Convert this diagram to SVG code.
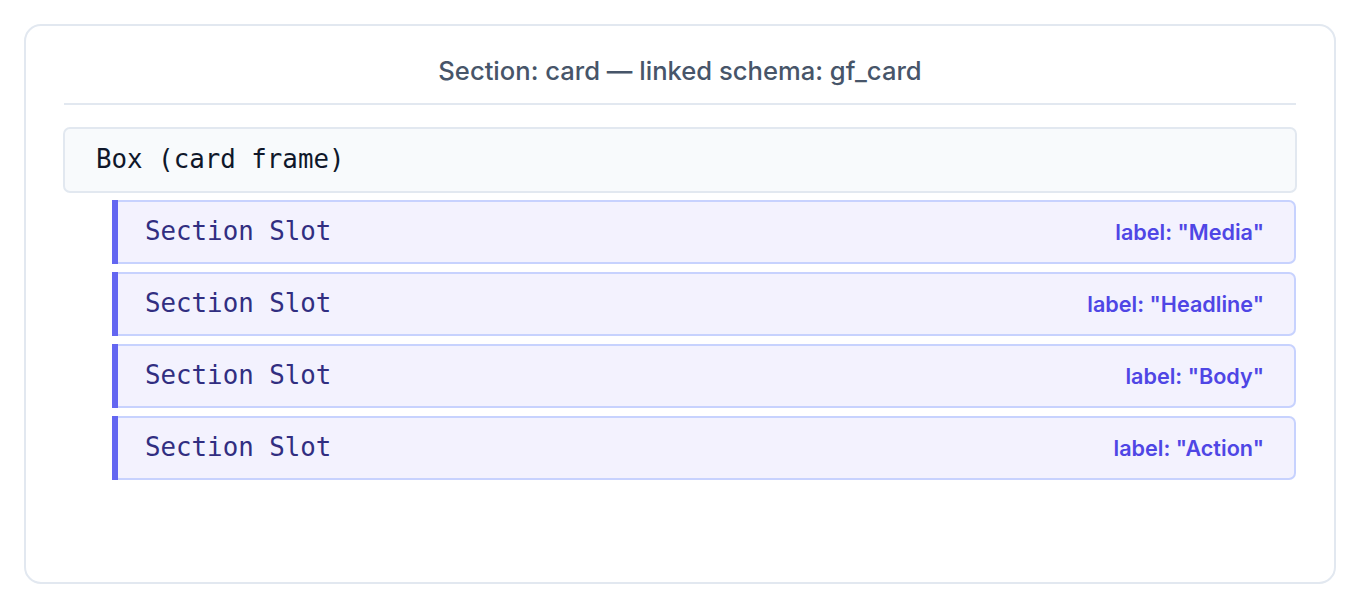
<svg xmlns="http://www.w3.org/2000/svg" width="1360" height="608" viewBox="0 0 1360 608">
<style>
.mono{font-family:"DejaVu Sans Mono","Liberation Mono",monospace;font-size:25.8px}
.slot{fill:#f3f2fe;stroke:#c7d2fe;stroke-width:2}
.bar{fill:#6366f1}
.slottxt{fill:#312e81}
.lbl{font-family:Inter,"Liberation Sans",sans-serif;font-size:21.6px;font-weight:600;fill:#4f46e5;text-anchor:end}
</style>
<rect x="25" y="25" width="1310" height="558" rx="16" fill="#ffffff" stroke="#e2e8f0" stroke-width="2"/>
<text x="680" y="80" text-anchor="middle" font-family="Inter,'Liberation Sans',sans-serif" font-size="25.6" font-weight="500" fill="#475569">Section: card — linked schema: gf_card</text>
<line x1="64" y1="104" x2="1296" y2="104" stroke="#e2e8f0" stroke-width="2"/>
<g id="box-card-frame">
<rect x="64" y="128" width="1232" height="64" rx="6" fill="#f8fafc" stroke="#e2e8f0" stroke-width="2"/>
<text class="mono" x="96" y="168" fill="#0f172a">Box (card frame)</text>
</g>
<g id="slot-media">
<rect class="slot" x="113" y="201" width="1182" height="62" rx="6"/>
<rect class="bar" x="112" y="200" width="6" height="64"/>
<text class="mono slottxt" x="145" y="240">Section Slot</text>
<text class="lbl" x="1264" y="240">label: "Media"</text>
</g>
<g id="slot-headline">
<rect class="slot" x="113" y="273" width="1182" height="62" rx="6"/>
<rect class="bar" x="112" y="272" width="6" height="64"/>
<text class="mono slottxt" x="145" y="312">Section Slot</text>
<text class="lbl" x="1264" y="312">label: "Headline"</text>
</g>
<g id="slot-body">
<rect class="slot" x="113" y="345" width="1182" height="62" rx="6"/>
<rect class="bar" x="112" y="344" width="6" height="64"/>
<text class="mono slottxt" x="145" y="384">Section Slot</text>
<text class="lbl" x="1264" y="384">label: "Body"</text>
</g>
<g id="slot-action">
<rect class="slot" x="113" y="417" width="1182" height="62" rx="6"/>
<rect class="bar" x="112" y="416" width="6" height="64"/>
<text class="mono slottxt" x="145" y="456">Section Slot</text>
<text class="lbl" x="1264" y="456">label: "Action"</text>
</g>
<g id="connectors"></g>
</svg>
